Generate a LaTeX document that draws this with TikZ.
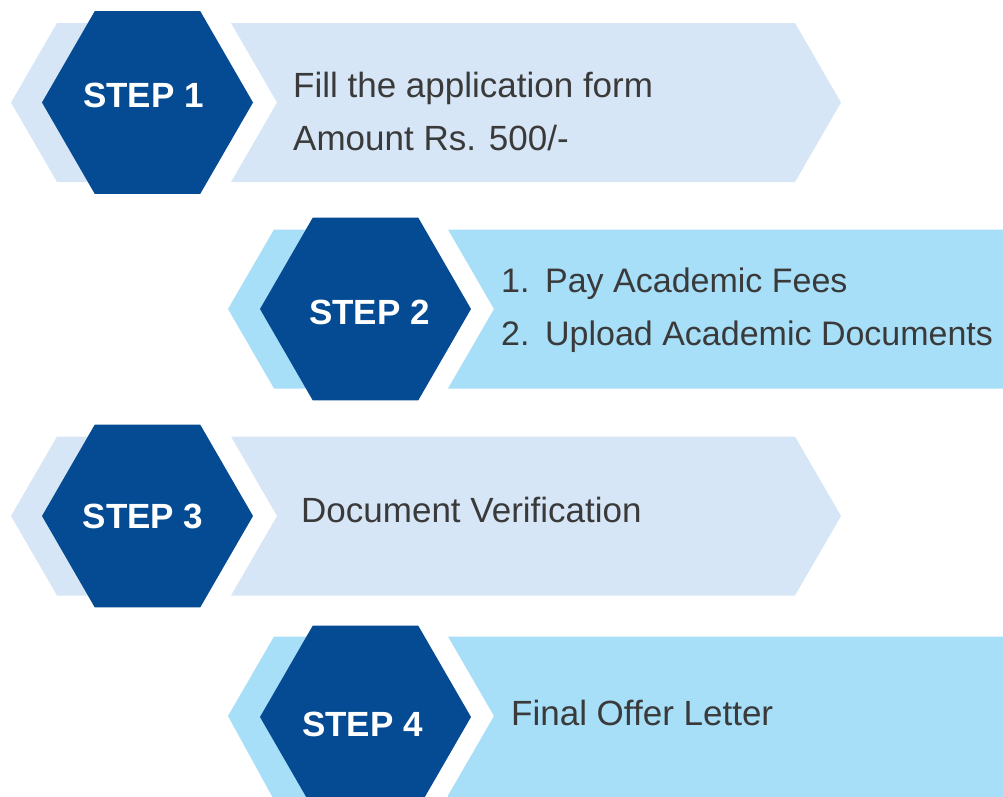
\documentclass[tikz,border=0pt]{standalone}
\usepackage{fontspec}
\setmainfont{Liberation Sans}
\usetikzlibrary{shapes.geometric}
\definecolor{stepblue}{HTML}{054B93}
\definecolor{palebar}{HTML}{D6E6F6}
\definecolor{skybar}{HTML}{A7DEF8}
\definecolor{bodytext}{HTML}{3A3A3A}

\begin{document}
\begin{tikzpicture}[x=1pt, y=-1pt,
            hexa/.style={regular polygon, regular polygon sides=6, minimum size=211pt, inner sep=0pt, fill=stepblue}, % dark step badge
            steplabel/.style={anchor=base, inner sep=0pt, text=white, font=\fontsize{35}{35}\selectfont\bfseries},
            bodyline/.style={anchor=base west, inner sep=0pt, text=bodytext, font=\fontsize{35}{35}\selectfont}
            ]
    \useasboundingbox (0,0) rectangle (1003,796);

    % Row 1: pale band
    \fill[palebar] (11,102.5) -- (57,23) -- (160,23) -- (160,182) -- (57,182) -- cycle;
    \fill[palebar] (231,23) -- (795,23) -- (841,102.5) -- (795,182) -- (231,182) -- (277,102.5) -- cycle;
    \node[hexa] (hex1) at (147.5,102.5) {};
    \node[steplabel] (step1) at (143.5,107) {STEP 1};
    \node[bodyline] (fill) at (293,97) {Fill the application form};
    \node[bodyline] (amount) at (293,150) {Amount Rs. 500/-};

    % Row 2: sky band, runs off the right edge
    \fill[skybar] (228,309) -- (274,229.5) -- (380,229.5) -- (380,388.5) -- (274,388.5) -- cycle;
    \fill[skybar] (448,229.5) -- (1010,229.5) -- (1010,388.5) -- (448,388.5) -- (494,309) -- cycle;
    \node[hexa] (hex2) at (365.5,309) {};
    \node[steplabel] (step2) at (369.5,324) {STEP 2};
    \node[bodyline, font=\fontsize{34}{34}\selectfont] (pay) at (501,292) {1.\hspace{3pt} Pay Academic Fees};
    \node[bodyline, font=\fontsize{34}{34}\selectfont] (upload) at (501,345) {2.\hspace{3pt} Upload Academic Documents};

    % Row 3: pale band
    \fill[palebar] (11,516) -- (57,436.5) -- (160,436.5) -- (160,595.5) -- (57,595.5) -- cycle;
    \fill[palebar] (231,436.5) -- (795,436.5) -- (841,516) -- (795,595.5) -- (231,595.5) -- (277,516) -- cycle;
    \node[hexa] (hex3) at (147.5,516) {};
    \node[steplabel] (step3) at (143,528) {STEP 3};
    \node[bodyline] (verify) at (301,522) {Document Verification};

    % Row 4: sky band, cut by the bottom edge
    \fill[skybar] (228,716) -- (274,636.5) -- (380,636.5) -- (380,800) -- (274,800) -- cycle;
    \fill[skybar] (448,636.5) -- (1010,636.5) -- (1010,800) -- (448,800) -- (448,795.5) -- (494,716) -- cycle;
    \node[hexa] (hex4) at (365.5,717) {};
    \node[steplabel] (step4) at (362.5,736) {STEP 4};
    \node[bodyline] (offer) at (511,725) {Final Offer Letter};

\end{tikzpicture}
\end{document}
